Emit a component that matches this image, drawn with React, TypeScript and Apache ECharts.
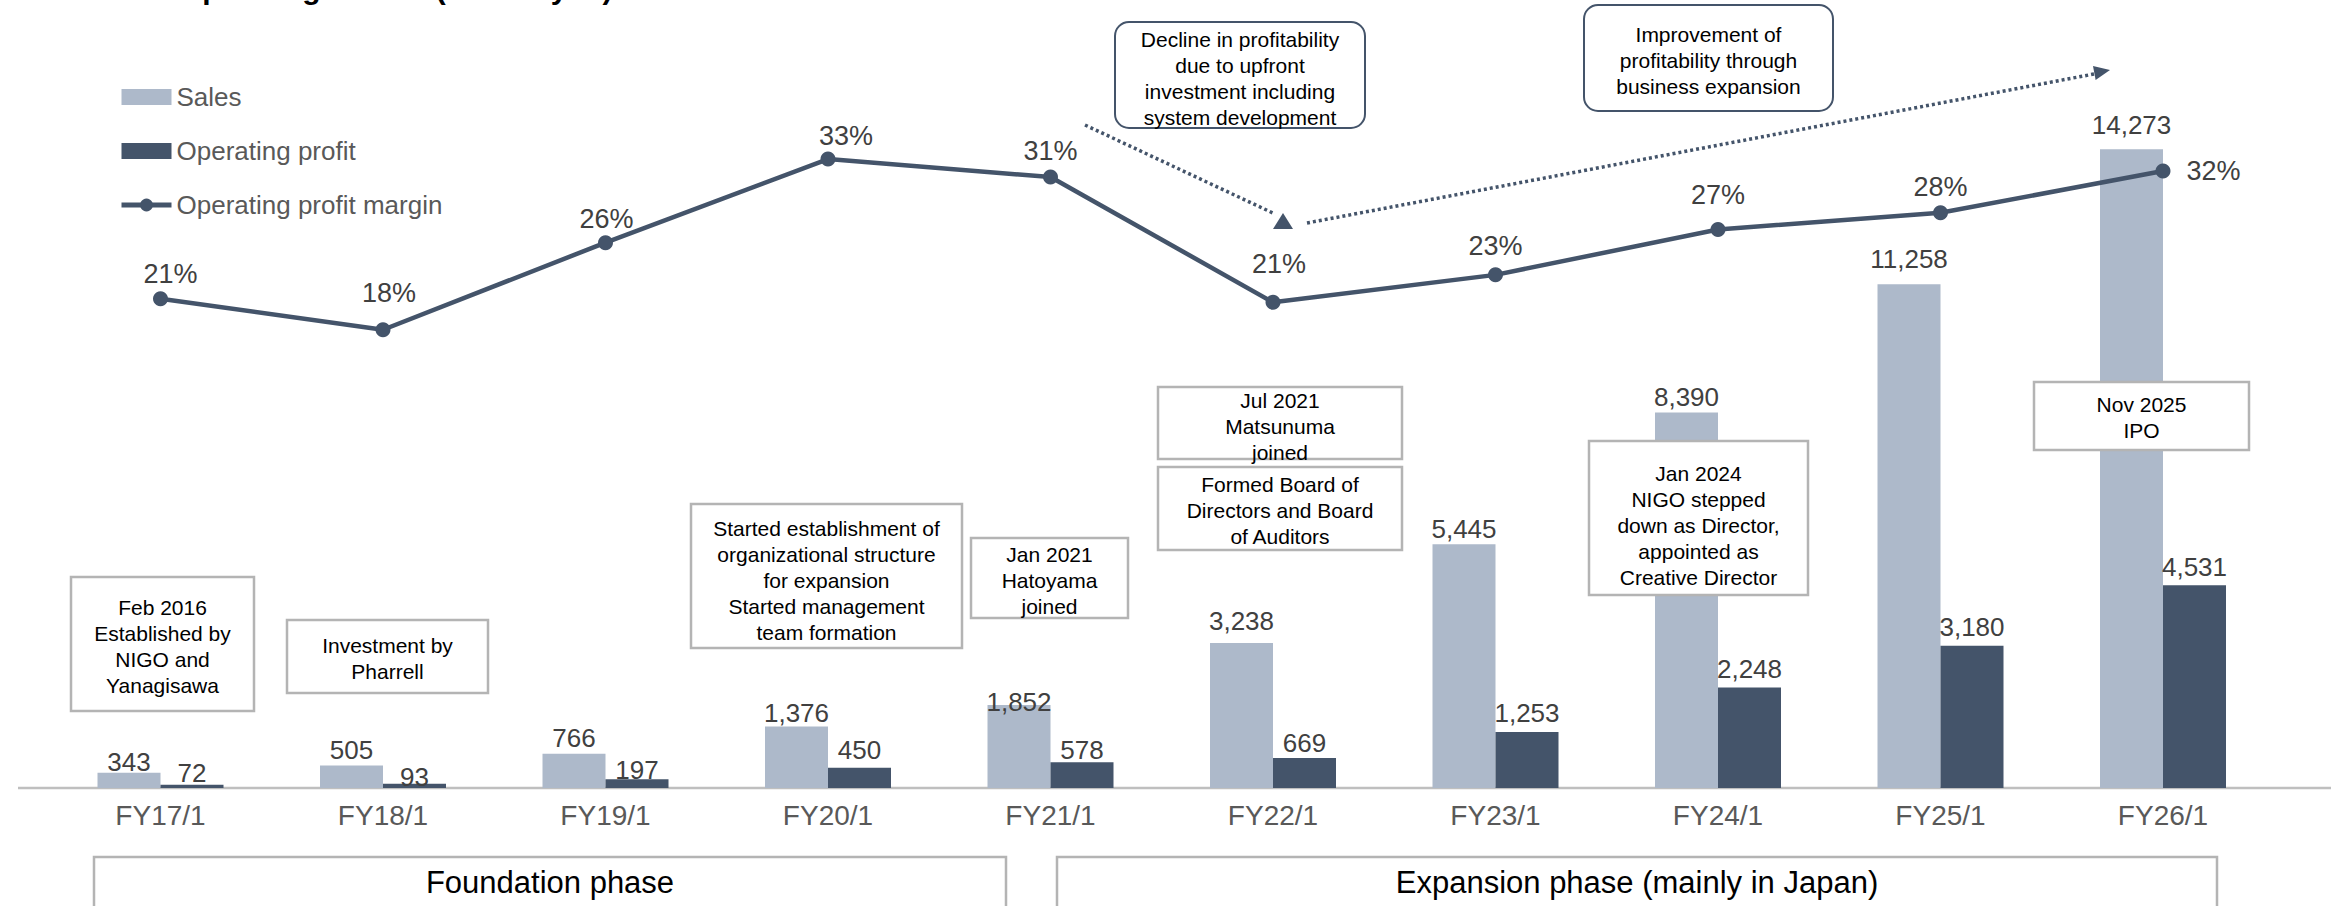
import React, { useEffect, useRef } from 'react';
import * as echarts from 'echarts';

const categories = ['FY17/1', 'FY18/1', 'FY19/1', 'FY20/1', 'FY21/1', 'FY22/1', 'FY23/1', 'FY24/1', 'FY25/1', 'FY26/1'];
const sales = [343, 505, 766, 1376, 1852, 3238, 5445, 8390, 11258, 14273];
const operatingProfit = [72, 93, 197, 450, 578, 669, 1253, 2248, 3180, 4531];
const operatingMargin = [21.0, 18.4, 25.7, 32.7, 31.2, 20.7, 23.0, 26.8, 28.2, 31.7];
const seriesNames = ['Sales', 'Operating profit', 'Operating profit margin'];
const phaseNames = ['Foundation phase', 'Expansion phase (mainly in Japan)'];
const titleText = 'Operating results (million yen)';
const milestoneTexts = [
  'Feb 2016\nEstablished by\nNIGO and\nYanagisawa',
  'Investment by\nPharrell',
  'Started establishment of\norganizational structure\nfor expansion\nStarted management\nteam formation',
  'Jan 2021\nHatoyama\njoined',
  'Jul 2021\nMatsunuma\njoined',
  'Formed Board of\nDirectors and Board\nof Auditors',
  'Jan 2024\nNIGO stepped\ndown as Director,\nappointed as\nCreative Director',
  'Nov 2025\nIPO',
];
const trendTexts = [
  'Decline in profitability\ndue to upfront\ninvestment including\nsystem development',
  'Improvement of\nprofitability through\nbusiness expansion',
];

// layout / style (not data)
const FONT = '"Liberation Sans", Arial, sans-serif';
const DARK = '#44546A';
const LIGHT = '#ADB9CA';
const BOX_GRAY = '#B4B4B4';
const salesLabelDist = [-2, 2, 3, 0, -10, 9, 2, 3, 12, 11];
const profitLabelDist = [-1, -6, -4, 5, -1, 2, 6, 5, 6, 5];
const marginLabelOffset: [number, number][] = [
  [10, 1], [6, -11], [1, 2], [18, 3], [0, 0], [6, -12], [0, -3], [0, -9], [0, 0], [0, 0],
];
const milestoneBoxes = [
  { x: 71, y: 577, w: 183, h: 134, dy: 2 },
  { x: 287, y: 620, w: 201, h: 73, dy: 2 },
  { x: 691, y: 504, w: 271, h: 144, dy: 4 },
  { x: 971, y: 538, w: 157, h: 80, dy: 2 },
  { x: 1158, y: 387, w: 244, h: 72, dy: 3 },
  { x: 1158, y: 467, w: 244, h: 83, dy: 2 },
  { x: 1589, y: 441, w: 219, h: 154, dy: 7 },
  { x: 2034, y: 382, w: 215, h: 68, dy: 1 },
];
const trendBoxes = [
  { x: 1115, y: 22, w: 250, h: 106, dy: 3 },
  { x: 1584, y: 5, w: 249, h: 106, dy: 2 },
];
const phaseBoxes = [
  { x: 94, y: 857, w: 912, h: 90 },
  { x: 1057, y: 857, w: 1160, h: 90 },
];

function buildGraphics() {
  const els: any[] = [];
  // title (cut off at the top of the page, as in the reference)
  els.push({
    type: 'text', x: 179, y: -12, z: 20,
    style: { text: titleText, font: `bold 30px ${FONT}`, fill: '#000', align: 'left', verticalAlign: 'middle' },
  });
  // x axis baseline spanning the width
  els.push({
    type: 'line', z: 1,
    shape: { x1: 18, y1: 788, x2: 2331, y2: 788 },
    style: { stroke: '#BFBFBF', lineWidth: 2.5 },
  });
  milestoneBoxes.forEach((b, i) => {
    els.push({
      type: 'rect', z: 10,
      shape: { x: b.x, y: b.y, width: b.w, height: b.h },
      style: { fill: '#fff', stroke: BOX_GRAY, lineWidth: 2.5 },
    });
    els.push({
      type: 'text', z: 11, x: b.x + b.w / 2, y: b.y + b.h / 2 + b.dy,
      style: { text: milestoneTexts[i], font: `21px ${FONT}`, fill: '#000', align: 'center', verticalAlign: 'middle', lineHeight: 26 },
    });
  });
  trendBoxes.forEach((b, i) => {
    els.push({
      type: 'rect', z: 10,
      shape: { x: b.x, y: b.y, width: b.w, height: b.h, r: 14 },
      style: { fill: '#fff', stroke: DARK, lineWidth: 2 },
    });
    els.push({
      type: 'text', z: 11, x: b.x + b.w / 2, y: b.y + b.h / 2 + b.dy,
      style: { text: trendTexts[i], font: `21px ${FONT}`, fill: '#000', align: 'center', verticalAlign: 'middle', lineHeight: 26 },
    });
  });
  // dotted arrows
  els.push({
    type: 'line', z: 9,
    shape: { x1: 1085, y1: 125, x2: 1275, y2: 214 },
    style: { stroke: DARK, lineWidth: 3.5, lineDash: [3, 3] },
  });
  els.push({
    type: 'polygon', z: 9,
    shape: { points: [[1283, 213], [1273, 229], [1293, 229]] },
    style: { fill: DARK },
  });
  els.push({
    type: 'line', z: 9,
    shape: { x1: 1307, y1: 223, x2: 2094, y2: 74 },
    style: { stroke: DARK, lineWidth: 3.5, lineDash: [3, 3] },
  });
  els.push({
    type: 'polygon', z: 9,
    shape: { points: [[2110, 70], [2095.6, 79.9], [2093, 66.1]] },
    style: { fill: DARK },
  });
  phaseBoxes.forEach((b, i) => {
    els.push({
      type: 'rect', z: 10,
      shape: { x: b.x, y: b.y, width: b.w, height: b.h },
      style: { fill: '#fff', stroke: BOX_GRAY, lineWidth: 2.5 },
    });
    els.push({
      type: 'text', z: 11, x: b.x + b.w / 2, y: 882,
      style: { text: phaseNames[i], font: `31px ${FONT}`, fill: '#000', align: 'center', verticalAlign: 'middle' },
    });
  });
  return els;
}

const fmt = (v: number) => v.toLocaleString('en-US');

export default function App() {
  const ref = useRef<HTMLDivElement>(null);
  useEffect(() => {
    if (!ref.current) return;
    const chart = echarts.init(ref.current, undefined, { renderer: 'svg' });
    const last = operatingMargin.length - 1;
    chart.setOption({
      animation: false,
      backgroundColor: '#fff',
      textStyle: { fontFamily: FONT },
      grid: { left: 49.25, right: 56.75, top: 72, bottom: 118 },
      legend: {
        orient: 'vertical',
        left: 114,
        top: 79,
        itemWidth: 50,
        itemHeight: 16,
        itemGap: 28,
        textStyle: { fontSize: 26, color: '#595959', fontFamily: FONT },
        data: [
          { name: seriesNames[0], icon: 'rect' },
          { name: seriesNames[1], icon: 'rect' },
          { name: seriesNames[2], lineStyle: { width: 5, color: DARK } },
        ],
      },
      xAxis: {
        type: 'category',
        data: categories,
        axisLine: { show: false },
        axisTick: { show: false },
        axisLabel: { fontSize: 28, color: '#595959', margin: 13, fontFamily: FONT },
      },
      yAxis: [
        { type: 'value', min: 0, max: 16000, show: false, splitLine: { show: false } },
        { type: 'value', min: -20, max: 40, show: false, splitLine: { show: false } },
      ],
      series: [
        {
          name: seriesNames[0],
          type: 'bar',
          barWidth: 63,
          barGap: '0%',
          z: 2,
          itemStyle: { color: LIGHT },
          label: { show: true, position: 'top', fontSize: 26, color: '#404040', fontFamily: FONT, formatter: (p: any) => fmt(p.value) },
          data: sales.map((v, i) => ({ value: v, label: { distance: salesLabelDist[i] } })),
        },
        {
          name: seriesNames[1],
          type: 'bar',
          barWidth: 63,
          barGap: '0%',
          z: 2,
          itemStyle: { color: DARK },
          label: { show: true, position: 'top', fontSize: 26, color: '#404040', fontFamily: FONT, formatter: (p: any) => fmt(p.value) },
          data: operatingProfit.map((v, i) => ({ value: v, label: { distance: profitLabelDist[i] } })),
        },
        {
          name: seriesNames[2],
          type: 'line',
          yAxisIndex: 1,
          z: 5,
          symbol: 'circle',
          symbolSize: 15,
          itemStyle: { color: DARK },
          lineStyle: { color: DARK, width: 4.5 },
          label: {
            show: true, position: 'top', fontSize: 27, color: '#404040', fontFamily: FONT,
            formatter: (p: any) => Math.round(p.value) + '%',
          },
          data: operatingMargin.map((v, i) => ({
            value: v,
            label: i === last
              ? { position: 'right', distance: 16, offset: marginLabelOffset[i] }
              : { offset: marginLabelOffset[i] },
          })),
        },
      ],
      graphic: buildGraphics(),
    });
    return () => chart.dispose();
  }, []);
  return (
    <div
      ref={ref}
      style={{ position: 'fixed', left: 0, top: 0, width: 2331, height: 906, background: '#fff' }}
    />
  );
}
